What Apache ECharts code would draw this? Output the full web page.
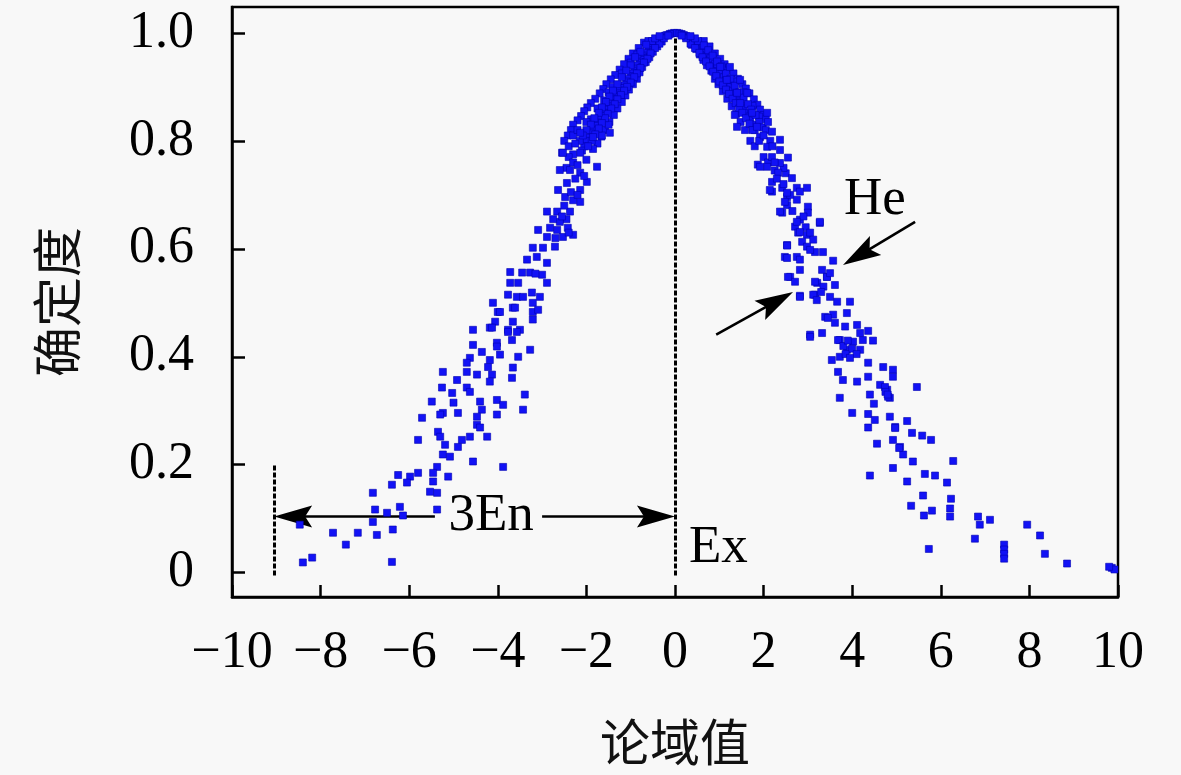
<!DOCTYPE html>
<html>
<head>
<meta charset="utf-8">
<title>云模型 确定度</title>
<script src="https://cdn.jsdelivr.net/npm/echarts@6/dist/echarts.min.js"></script>
<style>
  html, body { margin: 0; padding: 0; background: #f8f8f8; }
  #main { width: 1181px; height: 775px; }
</style>
</head>
<body>
<div id="main"></div>
<script>
// cloud drops: [x, certainty]
var topLeft = [
  [-0.02,1.0],[-0.08,0.999],[-0.12,0.998],[-0.18,0.996],[-0.22,0.995],[-0.28,0.992],[-0.32,0.99],[-0.38,0.987],
  [-0.42,0.984],[-0.3,0.984],[-0.46,0.98],[-0.5,0.977],[-0.4,0.975],[-0.55,0.972],[-0.6,0.968],[-0.5,0.965],
  [-0.64,0.963],[-0.68,0.958],[-0.58,0.955],[-0.72,0.954],[-0.76,0.95],[-0.66,0.946],[-0.8,0.945],[-0.84,0.94],
  [-0.74,0.937],[-0.88,0.934],[-0.92,0.93],[-0.8,0.927],[-0.96,0.925],[-1.0,0.92],[-0.86,0.915],[-1.05,0.915],
  [-1.1,0.91],[-0.95,0.905],[-1.14,0.903],[-1.2,0.898],[-1.04,0.895],[-1.25,0.893],[-1.3,0.888],[-1.12,0.884],
  [-1.35,0.882],[-1.4,0.877],[-1.2,0.872],[-1.45,0.87],[-1.5,0.864],[-1.3,0.86],[-1.55,0.858],[-1.6,0.852],
  [-1.38,0.848],[-1.65,0.846],[-1.7,0.84],[-1.48,0.835],[-1.75,0.834],[-1.8,0.828],[-1.58,0.82],[-1.85,0.82],
  [-1.9,0.814],[-1.66,0.808],[-1.95,0.806],[-2.0,0.8],[-1.75,0.795],[-2.05,0.79],[-2.1,0.782],[-1.85,0.785],
  [-0.7,0.982],[-0.82,0.972],[-0.95,0.962],[-1.05,0.952],[-1.15,0.942],[-1.25,0.932],[-1.35,0.922],[-1.45,0.914],
  [-1.55,0.905],[-1.62,0.896],[-1.7,0.888],[-1.8,0.878],[-1.9,0.87],[-1.98,0.862],[-2.05,0.855],[-2.12,0.846],
  [-2.2,0.838],[-2.3,0.83],[-2.35,0.82],[-2.42,0.81],[-2.5,0.8],[-2.3,0.81],[-2.2,0.82],[-2.4,0.79],
  [-2.55,0.778],[-2.3,0.775],[-2.15,0.8],[-1.9,0.84],[-1.6,0.875],[-1.4,0.9],[-1.2,0.925],[-1.0,0.945],
  [-0.85,0.96],[-0.6,0.985],[-1.5,0.89],[-1.75,0.86],[-2.0,0.835],[-1.65,0.81],[-1.5,0.83],
  [-0.35,0.98],[-0.45,0.972],[-0.55,0.962],[-0.62,0.952],[-0.7,0.945],[-0.78,0.935],[-0.86,0.925],[-0.92,0.918],
  [-1.0,0.908],[-1.08,0.9],[-1.15,0.893],[-1.22,0.885],[-1.3,0.877],[-1.36,0.868],[-1.44,0.86],[-1.52,0.85],
  [-1.58,0.842],[-1.65,0.833],[-1.72,0.823],[-1.8,0.812],[-1.88,0.8],[-1.96,0.79],[-0.52,0.985],[-0.65,0.978],
  [-0.78,0.965],[-0.9,0.955],[-1.0,0.94],[-1.1,0.93],[-1.2,0.918],[-1.3,0.905],[-1.4,0.893],[-1.48,0.882],
  [-1.56,0.872],[-1.65,0.862],[-1.72,0.852],[-1.82,0.842],[-1.9,0.83],[-2.0,0.82],[-2.08,0.81],[-2.25,0.795],
  [-2.4,0.77],[-2.45,0.75],[-2.0,0.765],[-0.25,0.99],[-0.15,0.995],[-0.45,0.99],[-0.35,0.994]
];
var midLeft = [
  [-2.14,0.815],[-1.85,0.807],[-1.47,0.815],[-2.53,0.778],[-2.14,0.778],[-1.76,0.752],[-2.6,0.746],[-2.37,0.746],
  [-2.14,0.741],[-2.44,0.722],[-1.99,0.724],[-2.64,0.709],[-2.48,0.696],[-2.14,0.709],[-2.14,0.687],[-2.89,0.669],
  [-2.66,0.669],[-2.37,0.669],[-3.09,0.635],[-2.82,0.639],[-2.66,0.635],[-2.42,0.639],[-2.3,0.626],[-2.53,0.622],
  [-2.89,0.622],[-2.71,0.604],[-3.21,0.602],[-2.98,0.602],[-3.34,0.58],[-3.12,0.585],[-2.89,0.574],[-3.72,0.557],
  [-3.27,0.556],[-3.0,0.552],[-2.89,0.537],[-3.72,0.537],[-3.54,0.537],[-3.77,0.515],[-3.57,0.511],[-3.43,0.511],
  [-3.23,0.519],[-3.05,0.511],[-4.11,0.5],[-3.21,0.5],[-4.0,0.483],[-3.66,0.491],[-3.21,0.483],[-3.09,0.487],
  [-4.06,0.465],[-3.66,0.465],[-3.21,0.469],[-4.18,0.454],[-3.77,0.45],[-3.5,0.45],[-3.68,0.431],[-4.02,0.426],
  [-2.3,0.76],[-2.2,0.755],[-2.05,0.735],[-2.25,0.73],[-2.35,0.705],[-2.3,0.69],[-2.5,0.68],[-2.2,0.7],
  [-2.45,0.655],[-2.6,0.65],[-2.75,0.655],[-2.55,0.66],[-2.7,0.62],[-2.4,0.63],[-3.45,0.556],[-3.15,0.554]
];
var tailLeft = [
  [-3.95,0.483],[-3.61,0.491],[-4.56,0.45],[-4.13,0.454],[-3.77,0.446],[-3.57,0.446],[-3.27,0.413],[-4.56,0.422],
  [-4.36,0.409],[-4.02,0.419],[-4.63,0.398],[-4.18,0.394],[-3.95,0.404],[-3.54,0.4],[-4.7,0.389],[-4.22,0.381],
  [-3.66,0.38],[-5.24,0.372],[-4.7,0.372],[-4.47,0.367],[-4.13,0.367],[-3.68,0.361],[-4.18,0.354],[-4.92,0.357],
  [-5.26,0.343],[-5.03,0.333],[-4.7,0.343],[-4.63,0.335],[-3.39,0.33],[-5.49,0.317],[-5.0,0.315],[-4.4,0.317],
  [-4.02,0.32],[-3.88,0.311],[-5.24,0.296],[-4.9,0.296],[-4.36,0.302],[-4.02,0.293],[-4.47,0.289],[-3.43,0.302],
  [-5.71,0.287],[-5.3,0.293],[-4.47,0.274],[-4.4,0.269],[-5.35,0.261],[-5.3,0.252],[-5.8,0.246],[-4.81,0.246],
  [-4.63,0.252],[-4.24,0.252],[-5.19,0.237],[-4.9,0.233],[-5.24,0.219],[-5.08,0.215],[-4.56,0.206],[-3.88,0.196],
  [-5.37,0.196],[-5.46,0.185],[-5.8,0.185],[-5.98,0.178],[-6.25,0.181],[-5.46,0.169],[-5.12,0.178],[-6.05,0.167],
  [-6.39,0.163],[-6.82,0.148],[-5.53,0.15],[-5.37,0.148],[-6.21,0.122],[-6.77,0.117],[-5.37,0.117],[-6.5,0.111],
  [-6.14,0.106],[-6.82,0.094],[-8.47,0.089],[-7.72,0.074],[-7.16,0.074],[-6.73,0.07],[-6.37,0.08],[-7.43,0.052],
  [-8.4,0.019],[-8.19,0.028],[-6.39,0.02]
];
var topRight = [
  [0.05,1.0],[0.1,0.999],[0.15,0.998],[0.2,0.996],[0.25,0.994],[0.3,0.992],[0.35,0.99],[0.4,0.986],
  [0.45,0.983],[0.5,0.98],[0.38,0.978],[0.55,0.976],[0.6,0.972],[0.48,0.97],[0.65,0.968],[0.7,0.963],
  [0.56,0.96],[0.75,0.958],[0.8,0.953],[0.64,0.95],[0.85,0.948],[0.9,0.942],[0.72,0.94],[0.95,0.936],
  [1.0,0.93],[0.82,0.93],[1.05,0.924],[1.1,0.918],[0.9,0.915],[1.15,0.912],[1.2,0.906],[0.98,0.905],
  [1.25,0.9],[1.3,0.893],[1.08,0.892],[1.35,0.887],[1.4,0.88],[1.18,0.878],[1.45,0.873],[1.5,0.866],
  [1.28,0.864],[1.55,0.86],[1.6,0.852],[1.38,0.85],[1.65,0.845],[1.7,0.838],[1.48,0.835],[1.58,0.82],
  [1.75,0.83],[1.8,0.82],[0.65,0.985],[0.78,0.975],[0.9,0.962],[1.02,0.952],[1.12,0.942],[1.22,0.935],
  [1.32,0.925],[1.42,0.915],[1.52,0.905],[1.6,0.897],[1.68,0.888],[1.78,0.877],[1.86,0.867],[1.92,0.858],
  [2.0,0.848],[2.05,0.84],[1.15,0.93],[1.35,0.91],[1.55,0.89],[1.75,0.865],[1.9,0.845],
  [0.35,0.98],[0.45,0.972],[0.55,0.963],[0.62,0.955],[0.7,0.947],[0.78,0.938],[0.86,0.928],[0.93,0.92],
  [1.0,0.91],[1.08,0.903],[1.15,0.895],[1.22,0.887],[1.3,0.878],[1.37,0.87],[1.45,0.86],[1.52,0.852],
  [1.6,0.842],[1.68,0.832],[1.75,0.82],[0.52,0.985],[0.65,0.977],[0.75,0.968],[0.85,0.958],[0.95,0.947],
  [1.05,0.938],[1.15,0.925],[1.25,0.915],[1.35,0.902],[1.45,0.89],[1.55,0.88],[1.65,0.868],[1.72,0.858],
  [1.82,0.848],[1.9,0.835],[1.98,0.825],[2.05,0.82],[2.15,0.8],[1.7,0.8],[1.8,0.79],[2.0,0.77],
  [2.1,0.76],[2.25,0.745],[2.5,0.74],[2.45,0.75],[0.25,0.99],[0.15,0.995],[0.45,0.99],[0.35,0.994]
];
var midRight = [
  [1.02,0.937],[1.24,0.937],[1.17,0.913],[1.47,0.913],[1.4,0.889],[1.63,0.889],[1.47,0.87],[1.35,0.848],
  [1.4,0.826],[1.74,0.852],[2.08,0.852],[2.1,0.835],[1.85,0.826],[2.19,0.817],[1.92,0.807],[2.37,0.802],
  [2.08,0.789],[2.37,0.783],[2.19,0.77],[2.55,0.769],[1.87,0.756],[2.08,0.752],[2.37,0.759],[2.33,0.741],
  [2.64,0.731],[2.19,0.724],[2.42,0.713],[2.19,0.706],[2.75,0.713],[2.98,0.713],[2.53,0.696],[2.75,0.691],
  [2.53,0.681],[3.0,0.678],[2.42,0.667],[3.0,0.667],[2.82,0.654],[3.27,0.648],[2.71,0.641],[2.78,0.63],
  [2.98,0.626],[3.12,0.617],[2.87,0.613],[2.53,0.607],[2.98,0.604],[3.16,0.594],[3.34,0.594],[2.48,0.585],
  [2.75,0.585],[1.9,0.8],[2.0,0.81],[2.2,0.79],[2.25,0.76],[2.3,0.73],[2.45,0.72],[2.6,0.7],
  [2.65,0.67],[2.9,0.66],[2.95,0.64],[3.05,0.63],[1.92,0.752],[2.14,0.709],[2.53,0.704],[2.82,0.706],
  [2.48,0.687],[2.37,0.669],[2.75,0.65],[3.27,0.65],[2.82,0.631],[2.53,0.606],[3.05,0.598],[2.53,0.583],
  [2.82,0.58],[3.57,0.578],[3.32,0.561],[2.82,0.561],[3.43,0.548],[2.6,0.548],[3.61,0.533],[3.21,0.537],
  [2.82,0.513],[3.16,0.515],[3.5,0.511],[3.57,0.478],[3.39,0.474],[3.05,0.441],[3.72,0.431],[4.02,0.428],
  [4.24,0.431],[3.88,0.413],[4.18,0.413],[3.72,0.4]
];
var tailRight = [
  [2.55,0.548],[2.71,0.539],[2.82,0.511],[3.16,0.539],[3.43,0.548],[3.35,0.53],[3.5,0.555],[3.3,0.52],
  [3.12,0.515],[3.2,0.505],[3.66,0.502],[3.95,0.502],[3.88,0.481],[3.45,0.472],[3.61,0.463],[3.84,0.456],
  [4.11,0.459],[4.36,0.448],[3.05,0.437],[3.32,0.444],[3.68,0.431],[4.18,0.444],[4.47,0.43],[3.8,0.42],
  [3.9,0.43],[4.0,0.415],[4.1,0.405],[3.85,0.405],[3.54,0.394],[3.95,0.398],[4.36,0.389],[4.7,0.381],
  [4.92,0.376],[4.92,0.363],[3.68,0.372],[3.79,0.357],[4.11,0.354],[4.36,0.363],[4.63,0.348],[4.79,0.339],
  [4.85,0.324],[5.46,0.344],[4.4,0.33],[3.72,0.324],[4.49,0.313],[4.0,0.296],[4.36,0.294],[4.51,0.283],
  [4.85,0.289],[5.24,0.281],[4.36,0.269],[4.97,0.27],[5.35,0.259],[5.58,0.254],[5.78,0.246],[4.56,0.239],
  [4.92,0.246],[5.08,0.233],[5.15,0.219],[5.37,0.206],[6.28,0.207],[4.92,0.194],[5.64,0.183],[5.87,0.18],
  [4.4,0.18],[5.24,0.169],[6.14,0.167],[4.74,0.344],[4.81,0.326],[4.75,0.335],[4.8,0.33],[4.97,0.268],
  [5.06,0.231],[5.6,0.143],[6.23,0.137],[5.33,0.124],[5.8,0.115],[6.21,0.119],[5.62,0.106],[6.21,0.104],
  [6.84,0.104],[7.11,0.098],[6.88,0.089],[7.95,0.089],[8.24,0.069],[6.77,0.063],[7.43,0.052],[7.43,0.043],
  [7.43,0.035],[7.43,0.026],[5.73,0.044],[8.35,0.035],[8.85,0.017],[9.86,0.009],[9.92,0.006],[9.8,0.011]
];

var yTicks = [0, 0.2, 0.4, 0.6, 0.8, 1.0];

// annotation anchors, data units (an arrow head is centred on the second point,
// so that point sits half a head short of the tip)
var exLine = [[0, -0.005], [0, 1.0]];
var leftLine = [[-9.05, -0.005], [-9.05, 0.2]];
var enLeft = [[-5.42, 0.104], [-8.62, 0.104]];
var enRight = [[-3.0, 0.104], [-0.43, 0.104]];
var heTop = [[5.42, 0.65], [4.16, 0.588]];
var heBottom = [[0.93, 0.441], [2.29, 0.503]];
var labels = [
  { text: '3En', at: [-4.15, 0.104] },
  { text: 'Ex', at: [0.98, 0.046] },
  { text: 'He', at: [4.51, 0.69] }
];

var drops = [].concat(topLeft, midLeft, tailLeft, topRight, midRight, tailRight);

var serif = 'Liberation Serif';
var cjk = 'Noto Sans CJK SC';
// slim arrow head; the two lone moves pad the box to a square so it is not stretched
var arrowHead = 'path://M-19,0M19,38M0,0L11,38L0,31L-11,38Z';

var chart = echarts.init(document.getElementById('main'), null, { renderer: 'canvas' });

chart.setOption({
  backgroundColor: '#f8f8f8',
  animation: false,
  grid: { left: 232, right: 63, top: 7, bottom: 178, show: true,
          borderColor: '#000', borderWidth: 2.5, backgroundColor: 'transparent' },
  xAxis: {
    type: 'value', min: -10, max: 10, interval: 2,
    name: '论域值', nameLocation: 'middle', nameGap: 120,
    nameTextStyle: { fontFamily: cjk, fontSize: 50, color: '#111' },
    axisLine: { onZero: false, lineStyle: { color: '#000', width: 2.5 } },
    axisTick: { inside: true, length: 12, lineStyle: { color: '#000', width: 2.5 } },
    axisLabel: {
      margin: 30, fontFamily: serif, fontSize: 52, color: '#000',
      formatter: function (v) { return (v < 0 ? '\u2212' : '') + Math.abs(v); }
    },
    splitLine: { show: false }
  },
  yAxis: {
    type: 'value', min: -0.045, max: 1.048,
    name: '确定度', nameLocation: 'middle', nameGap: 150, nameRotate: 90,
    nameTextStyle: { fontFamily: cjk, fontSize: 50, color: '#111' },
    axisLine: { onZero: false, lineStyle: { color: '#000', width: 2.5 } },
    axisTick: { inside: true, length: 13, customValues: yTicks,
                lineStyle: { color: '#000', width: 2.5 } },
    axisLabel: {
      margin: 38, fontFamily: serif, fontSize: 52, color: '#000', customValues: yTicks,
      formatter: function (v) { return v === 0 ? '0' : v.toFixed(1); }
    },
    splitLine: { show: false }
  },
  series: [
    {
      type: 'scatter',
      data: drops,
      symbol: 'rect',
      symbolSize: 7,
      itemStyle: { color: '#1212f5', borderColor: '#0000b0', borderWidth: 0.6, opacity: 1 },
      silent: true,
      markPoint: {
        silent: true,
        animation: false,
        symbol: 'rect',
        symbolSize: 1,
        itemStyle: { color: 'rgba(0,0,0,0)' },
        label: { show: true, position: 'inside', fontFamily: serif, fontSize: 53, color: '#000' },
        data: labels.map(function (l) {
          return { coord: l.at, value: l.text, label: { formatter: l.text } };
        })
      }
    },
    {
      // dashed guide lines
      type: 'lines',
      coordinateSystem: 'cartesian2d',
      silent: true,
      symbol: ['none', 'none'],
      lineStyle: { color: '#000', width: 3, type: [5, 2], opacity: 1 },
      data: [{ coords: exLine }, { coords: leftLine }]
    },
    {
      // arrows
      type: 'lines',
      coordinateSystem: 'cartesian2d',
      silent: true,
      symbol: ['none', arrowHead],
      symbolSize: 38,
      lineStyle: { color: '#000', width: 2.6, type: 'solid', opacity: 1 },
      itemStyle: { color: '#000' },
      data: [{ coords: enLeft }, { coords: enRight }, { coords: heTop }, { coords: heBottom }]
    }
  ]
});
</script>
</body>
</html>
